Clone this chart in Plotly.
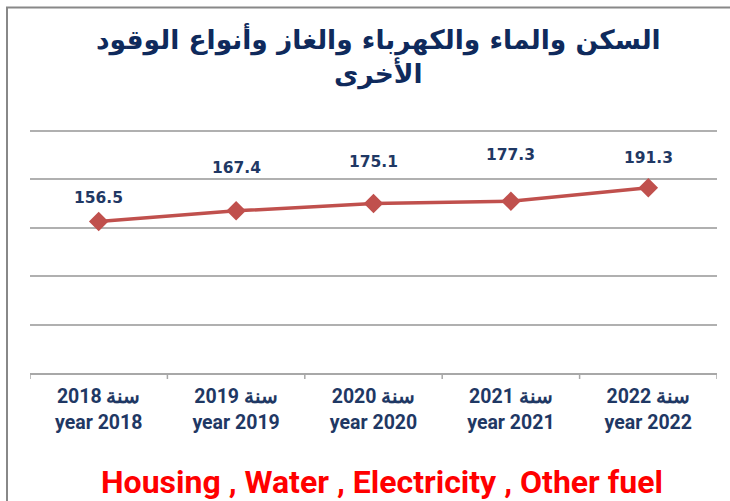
import plotly.graph_objects as go

categories_ar = ["سنة 2018", "سنة 2019", "سنة 2020", "سنة 2021", "سنة 2022"]
categories_en = ["year 2018", "year 2019", "year 2020", "year 2021", "year 2022"]
values = [156.5, 167.4, 175.1, 177.3, 191.3]
title_text = "السكن والماء والكهرباء والغاز وأنواع الوقود<br>الأخرى"
footer_text = "Housing , Water , Electricity , Other fuel"

label_shift = [23, 43, 41, 46, 30]  # style: vertical offsets of value labels (px)

W, H = 730, 501
L, R, T, B = 30, 13, 126, 128
pw, ph = W - L - R, H - T - B

def px_x(x):
    return (x - L) / pw

def px_y(y):
    return (H - B - y) / ph

xs = list(range(len(values)))
ticktext = [f"<b>{a}</b><br><b>{e}</b>" for a, e in zip(categories_ar, categories_en)]

fig = go.Figure()
fig.add_trace(go.Scatter(
    x=xs, y=values, mode="lines+markers",
    line=dict(color="#c0504d", width=3.5),
    marker=dict(symbol="diamond", size=15, color="#c0504d"),
    hoverinfo="skip", showlegend=False,
))

for x, v, s in zip(xs, values, label_shift):
    fig.add_annotation(x=x, y=v, text=f"<b>{v:.1f}</b>", showarrow=False,
                       yshift=s, font=dict(family="DejaVu Sans", size=15.5, color="#1f3864"))

fig.add_annotation(xref="paper", yref="paper", x=px_x(378), y=px_y(57),
                   text=f"<b>{title_text}</b>", showarrow=False,
                   font=dict(family="DejaVu Sans", size=26.5, color="#0f2a5c"),
                   align="center", xanchor="center", yanchor="middle")

fig.add_annotation(xref="paper", yref="paper", x=px_x(382), y=px_y(482),
                   text=f"<b>{footer_text}</b>", showarrow=False,
                   font=dict(family="Liberation Sans Narrow, Roboto, Arial", size=32, color="#ff0000"),
                   xanchor="center", yanchor="middle")

# outer frame (left and top edges)
fig.add_shape(type="line", xref="paper", yref="paper",
              x0=px_x(7), x1=px_x(7), y0=px_y(7), y1=px_y(H + 2),
              line=dict(color="#888888", width=2))
fig.add_shape(type="line", xref="paper", yref="paper",
              x0=px_x(6), x1=px_x(W + 2), y0=px_y(7.5), y1=px_y(7.5),
              line=dict(color="#888888", width=2))

fig.update_layout(
    width=W, height=H,
    margin=dict(l=L, r=R, t=T, b=B),
    paper_bgcolor="white", plot_bgcolor="white",
    xaxis=dict(
        range=[-0.5, len(values) - 0.5],
        tickmode="array", tickvals=xs, ticktext=ticktext,
        showgrid=False, zeroline=False,
        showline=True, linecolor="#a8a8a8", linewidth=1.5,
        ticks="", ticklabelstandoff=5,
        tickfont=dict(family="Liberation Sans Narrow, Roboto, Arial", size=19.5, color="#1f3864"),
    ),
    yaxis=dict(
        range=[0, 255], tickmode="array", tickvals=[50, 100, 150, 200, 250],
        showticklabels=False, showgrid=True, gridcolor="#b0b0b0", gridwidth=1.5,
        zeroline=False, showline=False,
    ),
)

# category boundary tick marks on the x-axis
for i in range(len(values) + 1):
    fig.add_shape(type="line", xref="x", yref="paper",
                  x0=i - 0.5, x1=i - 0.5, y0=0, y1=px_y(H - B + 6),
                  line=dict(color="#a8a8a8", width=1.5))

fig.write_html("out.html", config={"displayModeBar": False},
               post_script="document.body.style.margin='0';")
